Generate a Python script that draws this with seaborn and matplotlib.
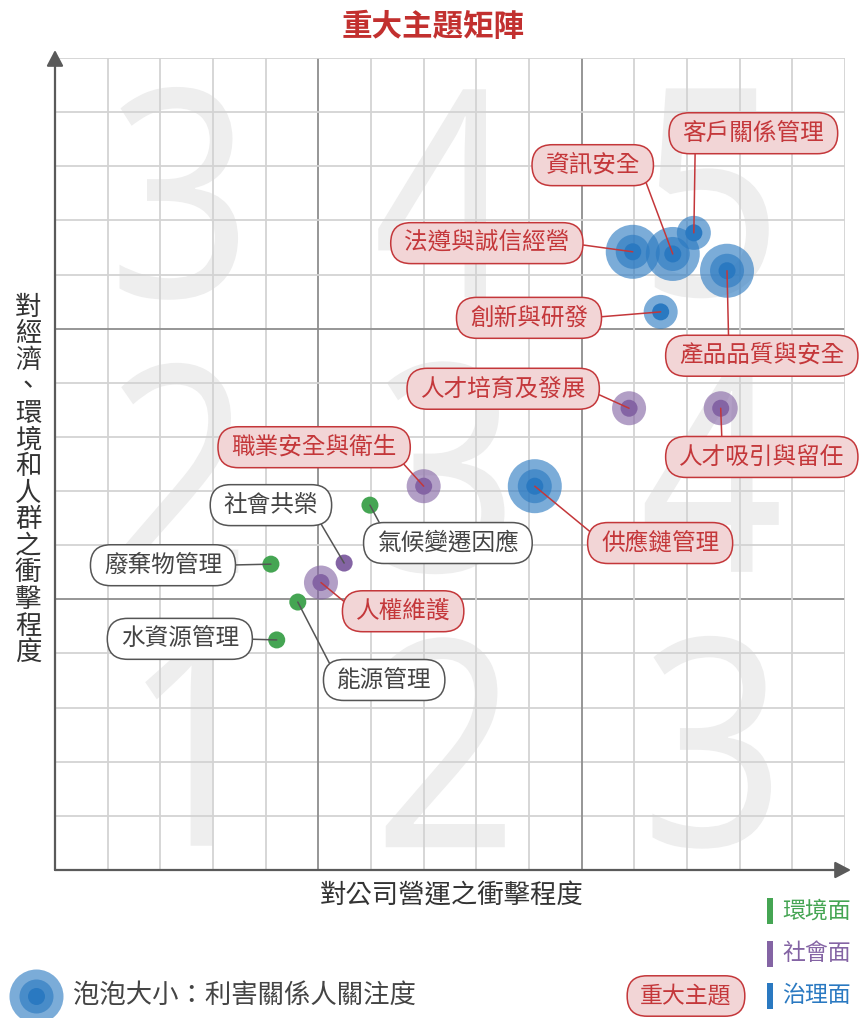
import matplotlib
matplotlib.use('Agg')
import matplotlib.pyplot as plt
from matplotlib.patches import Rectangle, PathPatch, BoxStyle
from matplotlib.textpath import TextPath
from matplotlib.font_manager import FontProperties
from matplotlib.transforms import Affine2D
import seaborn as sns
import pandas as pd

# 議題資料（座標以格線單位表示，0~15）
topics = ['客戶關係管理', '資訊安全', '法遵與誠信經營', '產品品質與安全', '創新與研發',
          '人才培育及發展', '人才吸引與留任', '職業安全與衛生', '供應鏈管理', '人權維護',
          '社會共榮', '氣候變遷因應', '廢棄物管理', '水資源管理', '能源管理']
operation_impact = [12.13, 11.73, 10.97, 12.76, 11.50, 10.90, 12.64, 7.00, 9.11, 5.05,
                    5.49, 5.98, 4.10, 4.21, 4.61]
esg_impact = [11.77, 11.38, 11.42, 11.07, 10.31, 8.53, 8.53, 7.09, 7.09, 5.31,
              5.67, 6.74, 5.65, 4.25, 4.95]
concern = [2, 3, 3, 3, 2, 2, 2, 2, 3, 2, 1, 1, 1, 1, 1]
dimension = ['治理', '治理', '治理', '治理', '治理', '社會', '社會', '社會', '治理', '社會',
             '社會', '環境', '環境', '環境', '環境']
material = [True] * 10 + [False] * 5
zone_numbers = [[1, 2, 3], [2, 3, 4], [3, 4, 5]]  # 由下而上
dim_names = ['環境', '社會', '治理']
legend_labels = ['環境面', '社會面', '治理面']

# 標籤位置 (x, y, 連線起點 relx, rely)
label_pos = {
    '客戶關係管理': (13.26, 13.61, 0.09, 0.0),
    '資訊安全': (10.21, 13.02, 1.0, 0.45),
    '法遵與誠信經營': (8.20, 11.58, 1.0, 0.5),
    '產品品質與安全': (13.42, 9.50, 0.30, 1.0),
    '創新與研發': (9.00, 10.20, 1.0, 0.5),
    '人才培育及發展': (8.51, 8.89, 1.0, 0.5),
    '人才吸引與留任': (13.42, 7.63, 0.26, 1.0),
    '職業安全與衛生': (4.92, 7.81, 1.0, 0.1),
    '供應鏈管理': (11.49, 6.04, 0.0, 0.6),
    '人權維護': (6.61, 4.78, 0.0, 0.5),
    '社會共榮': (4.10, 6.74, 0.97, 0.1),
    '氣候變遷因應': (7.46, 6.04, 0.05, 1.0),
    '廢棄物管理': (2.05, 5.63, 1.0, 0.5),
    '水資源管理': (2.37, 4.27, 1.0, 0.5),
    '能源管理': (6.25, 3.51, 0.0, 0.6),
}

palette = {'環境': '#45a553', '社會': '#8464a4', '治理': '#2a79c1'}
RED, RED_FILL = '#c4373a', '#f2d5d6'
GRAY = '#555555'

_round = BoxStyle.Round(pad=0.38, rounding_size=0.86)


def pill(x0, y0, width, height, mutation_size):
    # 左右多留一點空間的膠囊框
    ex = 0.19 * mutation_size
    return _round(x0 - ex, y0, width + 2 * ex, height, mutation_size)


sns.set_theme(style='white')
plt.rcParams['font.family'] = ['Noto Sans CJK TC', 'DejaVu Sans']

W, H = 859, 1018
fig = plt.figure(figsize=(W / 100, H / 100), dpi=100)
ax = fig.add_axes([55 / W, 1 - 870 / H, 790 / W, 812 / H])

df = pd.DataFrame({'topic': topics, 'x': operation_impact, 'y': esg_impact,
                   'concern': concern, 'dim': dimension, 'material': material})

# 背景大數字（略窄的字形）
digit_font = FontProperties(family='Noto Sans')
em_px = 207 / 0.714
for r in range(3):
    for c in range(3):
        path = TextPath((0, 0), str(zone_numbers[r][c]), size=1, prop=digit_font)
        bb = path.get_extents()
        tr = (Affine2D()
              .translate(-(bb.x0 + bb.x1) / 2, -(bb.y0 + bb.y1) / 2)
              .scale(em_px * 0.87 / 52.67, em_px / 54.13)
              .translate(2.35 + c * 5.06, 2.36 + r * 5.07)) + ax.transData
        ax.add_patch(PathPatch(path, transform=tr, fc='#eeeeee', lw=0, zorder=0))

# 格線
for v in range(1, 16):
    major = v in (5, 10)
    col = '#8e8e8e' if major else '#d3d3d3'
    ax.axvline(v, color=col, lw=1.3, zorder=0.5)
    ax.axhline(v, color=col, lw=1.3, zorder=0.5)

# 座標軸箭頭
arrow = dict(arrowstyle='-|>,head_length=0.8,head_width=0.42', color='#5a5a5a', lw=1.6,
             shrinkA=0, shrinkB=0)
ax.annotate('', xy=(0, 1 + 8 / 812), xytext=(0, 0), xycoords='axes fraction',
            arrowprops=arrow, annotation_clip=False)
ax.annotate('', xy=(1 + 6 / 790, 0), xytext=(0, 0), xycoords='axes fraction',
            arrowprops=arrow, annotation_clip=False)

# 泡泡（同心圓）
ring_sizes = {3: 1512, 2: 600, 1: 150}
for level in (3, 2, 1):
    sub = df[df['concern'] >= level]
    sns.scatterplot(data=sub, x='x', y='y', hue='dim', palette=palette,
                    s=ring_sizes[level], alpha=0.62 if level > 1 else 1.0,
                    linewidth=0, legend=False, ax=ax, zorder=2)

# 標籤
for row in df.itertuples():
    lx, ly, rx, ry = label_pos[row.topic]
    if row.material:
        tc, ec, fc = RED, RED, RED_FILL
    else:
        tc, ec, fc = '#444444', GRAY, 'white'
    ax.annotate(row.topic, xy=(row.x, row.y), xytext=(lx, ly), ha='center', va='center',
                fontsize=17, color=tc, zorder=4,
                bbox=dict(boxstyle=pill, fc=fc, ec=ec, lw=1.1),
                arrowprops=dict(arrowstyle='-', color=ec, lw=1.1, relpos=(rx, ry),
                                shrinkA=0, shrinkB=0))

ax.set_xlim(0, 15)
ax.set_ylim(0, 15)
ax.axis('off')

# 外框文字與圖例
lax = fig.add_axes([0, 0, 1, 1])
lax.set_xlim(0, W)
lax.set_ylim(H, 0)
lax.axis('off')
lax.patch.set_visible(False)

lax.text(433, 27, '重大主題矩陣', fontsize=22, fontweight='bold', color='#c2302f',
         ha='center', va='center')
lax.text(452, 896, '對公司營運之衝擊程度', fontsize=19, color='#333333', ha='center', va='center')
for i, ch in enumerate('對經濟、環境和人群之衝擊程度'):
    lax.text(28, 307 + 26.6 * i, ch, fontsize=19, color='#333333', ha='center', va='center')

for i, (d, lab) in enumerate(zip(dim_names, legend_labels)):
    y = 911 + i * 42.5
    lax.add_patch(Rectangle((767, y - 13), 6, 26, color=palette[d], lw=0))
    lax.text(782, y, lab, fontsize=16.5, color=palette[d], ha='left', va='center')

lax.text(686, 996, '重大主題', fontsize=16.5, color=RED, ha='center', va='center',
         bbox=dict(boxstyle=pill, fc=RED_FILL, ec=RED, lw=1.1))

for level in (3, 2, 1):
    lax.scatter([36], [996], s=ring_sizes[level], color=palette['治理'],
                alpha=0.62 if level > 1 else 1.0, linewidths=0)
lax.text(73, 995, '泡泡大小：利害關係人關注度', fontsize=19, color='#444444',
         ha='left', va='center')

fig.savefig('out.png', dpi=100)
